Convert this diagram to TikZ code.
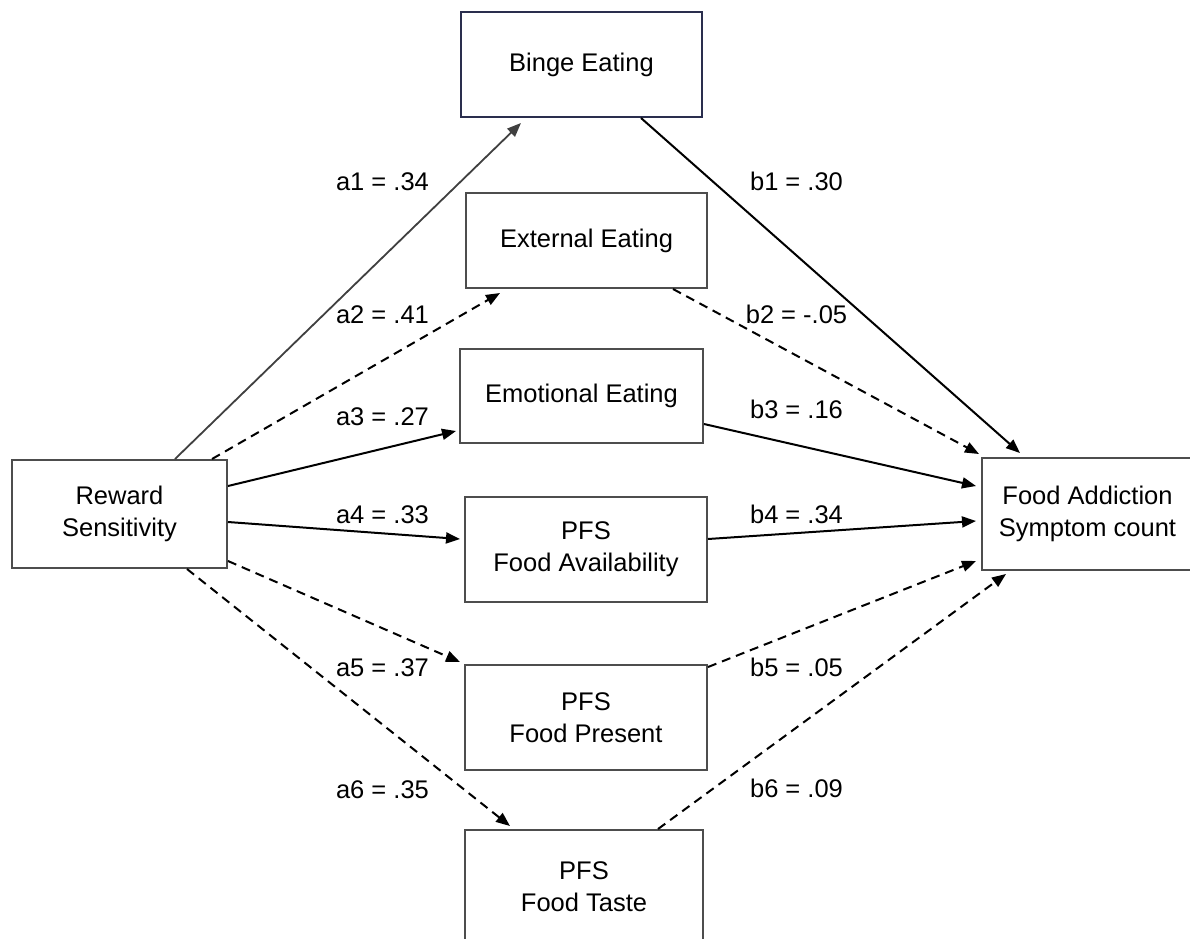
\documentclass[tikz,border=0pt]{standalone}
\usepackage{fontspec}
\setmainfont{Liberation Sans}
\usetikzlibrary{arrows.meta}
\definecolor{boxgray}{HTML}{4D4D4D}
\definecolor{navy}{HTML}{2A2E4E}
\definecolor{linegray}{HTML}{404040}
\tikzset{
  var/.style={draw=boxgray, line width=2pt, rectangle, inner sep=0pt, align=center, fill=white},
  coef/.style={anchor=base, inner sep=0pt},
  path/.style={line width=2pt, draw=black, -{Triangle[length=14pt,width=11pt]}},
  ns/.style={path, dash pattern=on 9pt off 6pt},
}
\begin{document}
\begin{tikzpicture}[x=1pt, y=-1pt, font=\fontsize{25.5}{32}\selectfont]
\fill[white] (0,0) rectangle (1190,938);
\useasboundingbox (0,0) rectangle (1190,938);

% nodes
\node[var, draw=navy, minimum width=241pt, minimum height=105pt] (binge) at (581.5,64.5) {Binge Eating};
\node[var, minimum width=241pt, minimum height=95pt] (ext) at (586.5,240.5) {External Eating};
\node[var, minimum width=243pt, minimum height=94pt] (emo) at (581.5,396) {Emotional Eating};
\node[var, minimum width=242pt, minimum height=105pt] (avail) at (586,549.5) {PFS\\Food Availability};
\node[var, minimum width=242pt, minimum height=105pt] (pres) at (586,717.5) {PFS\\Food Present};
\node[var, minimum width=238pt, minimum height=114pt] (taste) at (584,887) {PFS\\Food Taste};
\node[var, minimum width=215pt, minimum height=108pt] (rs) at (119.5,514) {Reward\\Sensitivity};
\node[var, minimum width=211pt, minimum height=112pt] (fa) at (1087.5,514) {Food Addiction\\Symptom count};

% a paths
\draw[path, draw=linegray, line width=1.8pt] ([xshift=164pt]rs.north west) -- ([xshift=61pt,yshift=-5pt]binge.south west);
\draw[ns] ([xshift=201pt]rs.north west) -- ([xshift=35pt,yshift=-4pt]ext.south west);
\draw[path] ([yshift=-27pt]rs.north east) -- ([xshift=-3pt,yshift=13pt]emo.south west);
\draw[path] ([yshift=-63pt]rs.north east) -- ([xshift=-4pt,yshift=-43pt]avail.north west);
\draw[ns] ([yshift=-102pt]rs.north east) -- ([xshift=-4pt,yshift=2pt]pres.north west);
\draw[ns] ([xshift=176pt]rs.south west) -- ([xshift=46pt,yshift=3pt]taste.north west);

% b paths
\draw[path] ([xshift=181pt]binge.south west) -- ([xshift=39pt,yshift=4pt]fa.north west);
\draw[ns] ([xshift=208pt]ext.south west) -- ([xshift=-2pt,yshift=3pt]fa.north west);
\draw[path] ([yshift=-76pt]emo.north east) -- ([xshift=-5pt,yshift=-29pt]fa.north west);
\draw[path] ([yshift=-43pt]avail.north east) -- ([xshift=-5pt,yshift=-64pt]fa.north west);
\draw[ns] ([yshift=-3pt]pres.north east) -- ([xshift=-5pt,yshift=-104pt]fa.north west);
\draw[ns] ([xshift=194pt]taste.north west) -- ([xshift=25pt,yshift=-3pt]fa.south west);

% coefficients
\node[coef] (la1) at (382.5,190) {a1 = .34};
\node[coef] (la2) at (382.5,323.5) {a2 = .41};
\node[coef] (la3) at (382.5,425.5) {a3 = .27};
\node[coef] (la4) at (382.5,523.5) {a4 = .33};
\node[coef] (la5) at (382.5,676.5) {a5 = .37};
\node[coef] (la6) at (382.5,798.5) {a6 = .35};
\node[coef] (lb1) at (796.5,190) {b1 = .30};
\node[coef] (lb2) at (796.5,323.5) {b2 = -.05};
\node[coef] (lb3) at (796.5,418.5) {b3 = .16};
\node[coef] (lb4) at (796.5,523.5) {b4 = .34};
\node[coef] (lb5) at (796.5,676.5) {b5 = .05};
\node[coef] (lb6) at (796.5,797.5) {b6 = .09};
\end{tikzpicture}
\end{document}
